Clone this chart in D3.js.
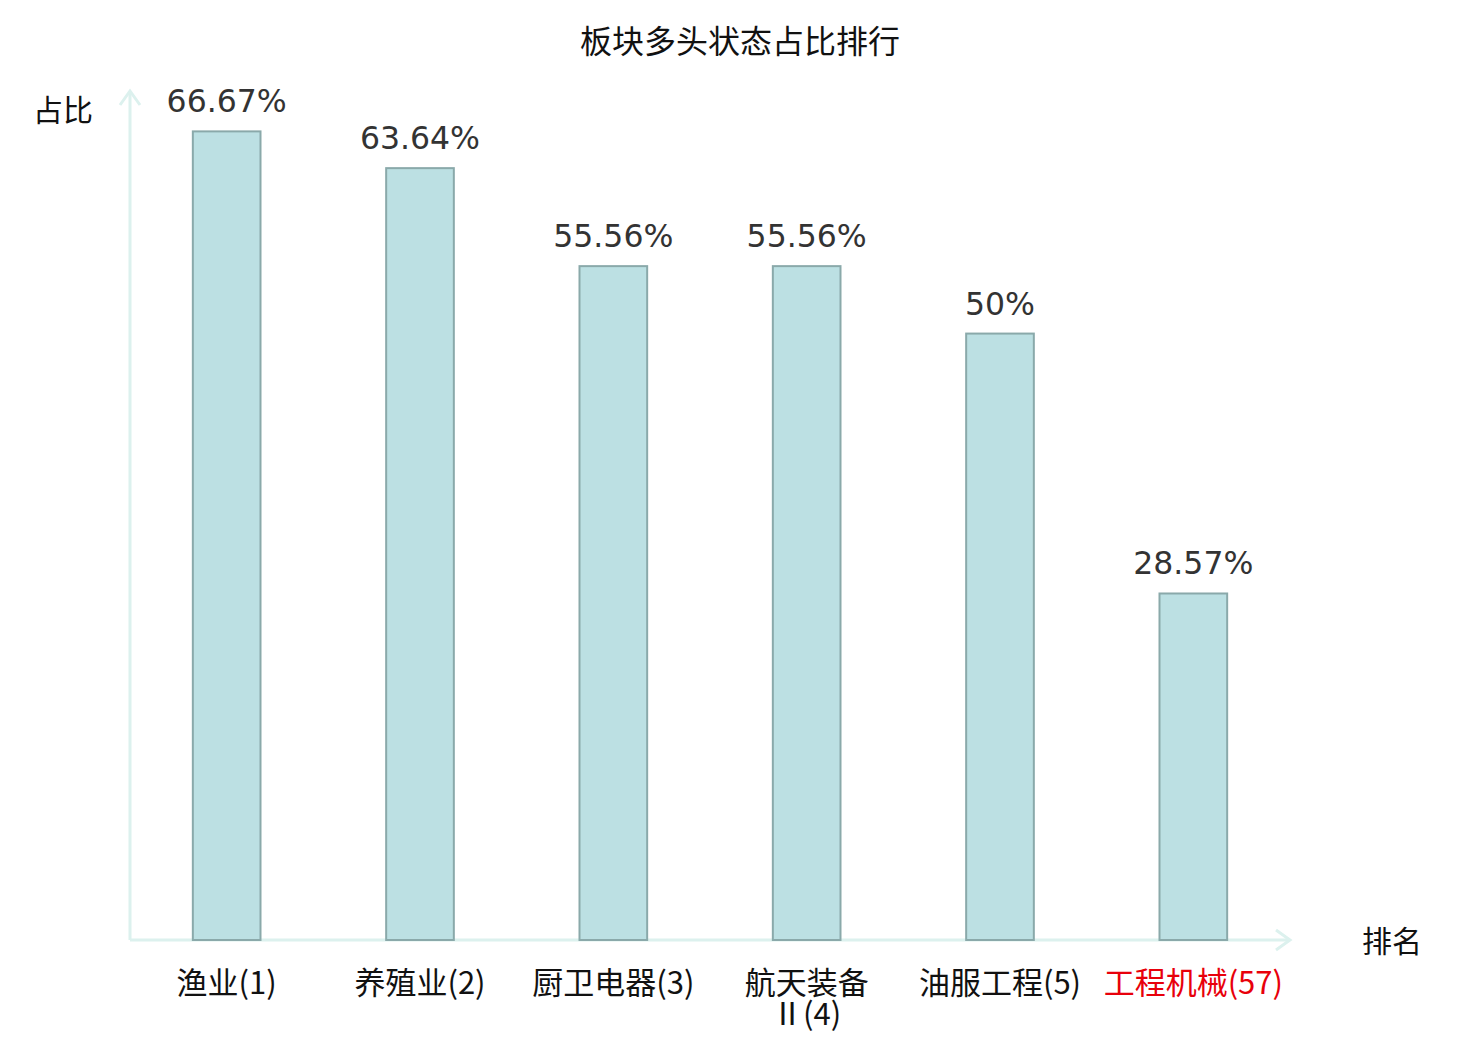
<!DOCTYPE html>
<html>
<head>
<meta charset="utf-8">
<script src="https://cdn.jsdelivr.net/npm/d3@7"></script>
<style>
  body { margin: 0; background: #fff; }
  svg { display: block; }
</style>
</head>
<body>
<script>
// data
var categories = ["渔业(1)", "养殖业(2)", "厨卫电器(3)", "航天装备Ⅱ(4)", "油服工程(5)", "工程机械(57)"];
var values = [66.67, 63.64, 55.56, 55.56, 50, 28.57];
var valueLabels = ["66.67%", "63.64%", "55.56%", "55.56%", "50%", "28.57%"];
var highlight = ["工程机械(57)"];

var W = 1480, H = 1040;
var margin = {top: 91, right: 190, bottom: 100, left: 130};
var width = W - margin.left - margin.right;
var height = H - margin.top - margin.bottom;

var svg = d3.select("body").append("svg")
    .attr("width", W)
    .attr("height", H);

var cjk = "'Noto Sans CJK SC', 'Noto Sans', sans-serif";

svg.append("text")
    .attr("x", W / 2)
    .attr("y", 53)
    .attr("text-anchor", "middle")
    .attr("font-family", cjk)
    .attr("font-size", "32px")
    .attr("fill", "#111")
    .text("板块多头状态占比排行");

var g = svg.append("g").attr("transform", "translate(" + margin.left + "," + margin.top + ")");

var x = d3.scaleBand().domain(categories).range([0, width]).paddingInner(0.65).paddingOuter(0.325);
var y = d3.scaleLinear().domain([0, 70]).range([height, 0]);

// axes with arrows
var axisColor = "#dcf1ee";
g.append("line").attr("x1", 0).attr("y1", height).attr("x2", 0).attr("y2", 0)
    .attr("stroke", axisColor).attr("stroke-width", 3);
g.append("path").attr("d", "M-10,14 L0,0 L10,14")
    .attr("fill", "none").attr("stroke", axisColor).attr("stroke-width", 3);
g.append("line").attr("x1", 0).attr("y1", height).attr("x2", width).attr("y2", height)
    .attr("stroke", axisColor).attr("stroke-width", 3);
g.append("path").attr("d", "M" + (width - 14) + "," + (height - 10) + " L" + width + "," + height + " L" + (width - 14) + "," + (height + 10))
    .attr("fill", "none").attr("stroke", axisColor).attr("stroke-width", 3);

g.selectAll("rect.bar")
    .data(values)
    .enter()
    .append("rect")
    .attr("class", "bar")
    .attr("x", function(d, i) { return x(categories[i]); })
    .attr("width", x.bandwidth())
    .attr("y", function(d) { return y(d); })
    .attr("height", function(d) { return height - y(d); })
    .attr("fill", "#bce0e3")
    .attr("stroke", "#8aa9aa")
    .attr("stroke-width", 2);

g.selectAll("text.val")
    .data(values)
    .enter()
    .append("text")
    .attr("class", "val")
    .attr("x", function(d, i) { return x(categories[i]) + x.bandwidth() / 2; })
    .attr("y", function(d) { return y(d) - 19; })
    .attr("text-anchor", "middle")
    .attr("font-family", "'DejaVu Sans', sans-serif")
    .attr("font-size", "31.5px")
    .attr("fill", "#333")
    .text(function(d, i) { return valueLabels[i]; });

// category labels, the one with Ⅱ wraps like the original
var labels = g.selectAll("text.cat")
    .data(categories)
    .enter()
    .append("text")
    .attr("class", "cat")
    .attr("x", function(d) { return x(d) + x.bandwidth() / 2; })
    .attr("y", height + 54)
    .attr("text-anchor", "middle")
    .attr("font-family", cjk)
    .attr("font-size", "31px")
    .attr("fill", function(d) { return highlight.indexOf(d) >= 0 ? "#e8000b" : "#111"; });

labels.each(function(d) {
    var t = d3.select(this);
    var cx = x(d) + x.bandwidth() / 2;
    var cut = d.indexOf("Ⅱ");
    if (cut > 0) {
        t.append("tspan").attr("x", cx).text(d.slice(0, cut));
        t.append("tspan").attr("x", cx).attr("dy", 31).text(d.slice(cut));
    } else {
        t.text(d);
    }
});

svg.append("text")
    .attr("x", 63)
    .attr("y", 121)
    .attr("text-anchor", "middle")
    .attr("font-family", cjk)
    .attr("font-size", "30px")
    .attr("fill", "#111")
    .text("占比");

svg.append("text")
    .attr("x", 1392)
    .attr("y", 952)
    .attr("text-anchor", "middle")
    .attr("font-family", cjk)
    .attr("font-size", "30px")
    .attr("fill", "#111")
    .text("排名");
</script>
</body>
</html>
